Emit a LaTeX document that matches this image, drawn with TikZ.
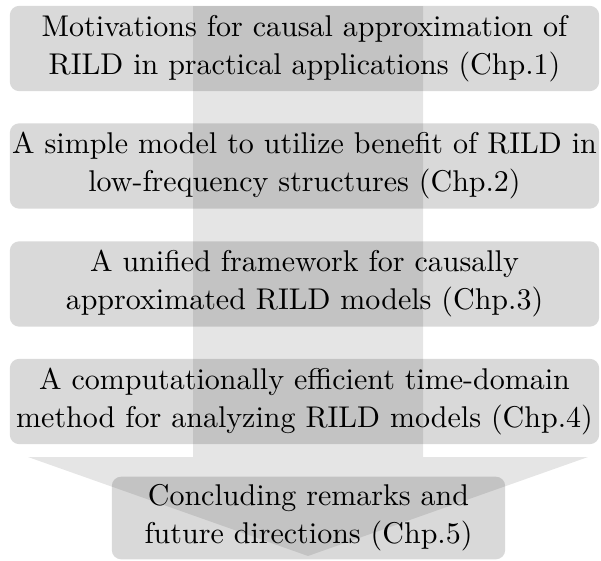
\documentclass[tikz,border=0pt]{standalone}
\usepackage{fontspec}
\setmainfont{lmroman10-regular.otf}
\usepackage{tikz}
\usetikzlibrary{positioning}

\begin{document}
\begin{tikzpicture}[x=0.75pt,y=-0.75pt,
		chpbox/.style={fill=black,fill opacity=0.15,text opacity=1,rounded corners=7pt,
			minimum width=442pt,minimum height=64pt,inner sep=0pt,align=center,
			font=\fontsize{22.5}{28.5}\selectfont},
		endbox/.style={chpbox,minimum width=295pt,minimum height=62pt}]
			\useasboundingbox (0,0) rectangle (601,561);
			
			% the big arrow behind the boxes
			\fill[black,opacity=0.1] (193,6) -- (423,6) -- (423,457) -- (588,457) -- (308,556) -- (28,457) -- (193,457) -- cycle;
			
			\node[chpbox] (chp1) at (304.5,48.5) {Motivations for causal approximation of\\RILD in practical applications (Chp.1)};
			\node[chpbox] (chp2) at (304.5,166) {A simple model to utilize benefit of RILD in\\low-frequency structures (Chp.2)};
			\node[chpbox] (chp3) at (304.5,284) {A unified framework for causally\\approximated RILD models (Chp.3)};
			\node[chpbox] (chp4) at (304.5,401.5) {A computationally efficient time-domain\\method for analyzing RILD models (Chp.4)};
			\node[endbox] (chp5) at (308.5,518) {Concluding remarks and\\future directions (Chp.5)};
			\end{tikzpicture}
\end{document}
